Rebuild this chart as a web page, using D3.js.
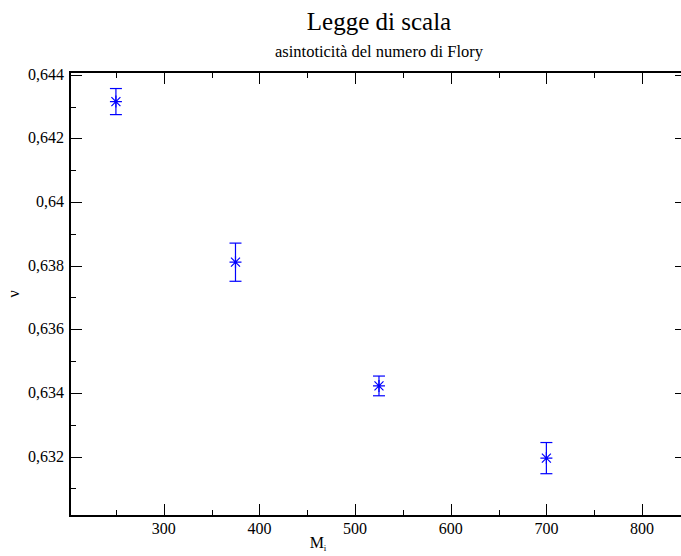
<!DOCTYPE html>
<html>
<head>
<meta charset="utf-8">
<script src="https://cdn.jsdelivr.net/npm/d3@7"></script>
<style>
  body { margin: 0; background: #fff; overflow: hidden; }
  svg { display: block; overflow: hidden; }
  text { font-family: "Liberation Serif", "DejaVu Serif", serif; }
</style>
</head>
<body>
<svg id="chart" width="681" height="556"></svg>
<script>
// ---- data ----
const sizes = [250, 375, 525, 700];              // M_i
const nuValues = [0.64316, 0.63811, 0.63422, 0.63195];
const nuErrors = [0.00041, 0.00060, 0.00031, 0.00049];
const xTicks = [300, 400, 500, 600, 700, 800];
const yTicks = [0.632, 0.634, 0.636, 0.638, 0.64, 0.642, 0.644];

const svg = d3.select("#chart");
const W = 681;
const serif = "'Liberation Serif', 'DejaVu Serif', serif";
const frame = { left: 70, top: 72, right: 687, bottom: 516 };

const xScale = d3.scaleLinear().domain([202, 847]).range([frame.left, frame.right]);
const yScale = d3.scaleLinear().domain([0.63013, 0.64409]).range([frame.bottom, frame.top]);

const fmt = d => String(+d.toFixed(3)).replace(".", ",");

// minor ticks half way between majors
const xMinor = d3.range(250, 851, 100);
const yMinor = d3.range(0.631, 0.6441, 0.002);

// the plot frame runs past the right edge of the picture: clip it there
svg.append("defs").append("clipPath").attr("id", "page")
  .append("rect").attr("x", 0).attr("y", 0).attr("width", W).attr("height", 556);

const g = svg.append("g").attr("clip-path", "url(#page)");

// ---- ticks (inward, all four sides) ----
const tickLine = (x1, y1, x2, y2) =>
  g.append("line").attr("x1", x1).attr("y1", y1).attr("x2", x2).attr("y2", y2)
    .attr("stroke", "#000").attr("stroke-width", 1);

xTicks.forEach(v => {
  const x = Math.round(xScale(v)) + 0.5;
  tickLine(x, frame.bottom, x, frame.bottom - 12);
  tickLine(x, frame.top, x, frame.top + 12);
});
xMinor.forEach(v => {
  const x = Math.round(xScale(v)) + 0.5;
  tickLine(x, frame.bottom, x, frame.bottom - 6);
  tickLine(x, frame.top, x, frame.top + 6);
});
yTicks.forEach(v => {
  const y = Math.round(yScale(v)) + 0.5;
  tickLine(frame.left, y, frame.left + 12, y);
  tickLine(frame.right, y, frame.right - 12, y);
});
yMinor.forEach(v => {
  const y = Math.round(yScale(v)) + 0.5;
  tickLine(frame.left, y, frame.left + 6, y);
  tickLine(frame.right, y, frame.right - 6, y);
});

// ---- frame: left, top, bottom (right side lies off the page) ----
g.append("path")
  .attr("d", `M${frame.right},${frame.top}H${frame.left}V${frame.bottom}H${frame.right}`)
  .attr("fill", "none").attr("stroke", "#000").attr("stroke-width", 2);

// ---- tick labels ----
g.selectAll(".xlab").data(xTicks).enter().append("text")
  .attr("class", "xlab")
  .attr("x", d => xScale(d)).attr("y", frame.bottom + 18)
  .attr("text-anchor", "middle").attr("font-family", serif).attr("font-size", 16)
  .text(d => d);

g.selectAll(".ylab").data(yTicks).enter().append("text")
  .attr("class", "ylab")
  .attr("x", frame.left - 6).attr("y", d => yScale(d) + 5)
  .attr("text-anchor", "end").attr("font-family", serif).attr("font-size", 16)
  .text(fmt);

// ---- titles ----
const cx = 379;
svg.append("text").attr("x", cx).attr("y", 30)
  .attr("text-anchor", "middle").attr("font-family", serif).attr("font-size", 25)
  .text("Legge di scala");
svg.append("text").attr("x", cx).attr("y", 57)
  .attr("text-anchor", "middle").attr("font-family", serif).attr("font-size", 16.5)
  .text("asintoticità del numero di Flory");

// axis labels
const xl = svg.append("text").attr("x", 318).attr("y", 548)
  .attr("text-anchor", "middle").attr("font-family", serif).attr("font-size", 16);
xl.append("tspan").text("M");
xl.append("tspan").attr("font-size", 9).attr("dy", 3).text("i");

svg.append("text")
  .attr("transform", `translate(19, 294) rotate(-90)`)
  .attr("text-anchor", "middle").attr("font-family", serif).attr("font-size", 16)
  .text("ν");

// ---- data: error bars + star symbols ----
const pts = sizes.map((s, i) => ({ x: s, y: nuValues[i], e: nuErrors[i] }));
const blue = "#0000ff";
const cap = 6, r = 6;

const pg = g.selectAll(".pt").data(pts).enter().append("g").attr("class", "pt")
  .attr("stroke", blue).attr("stroke-width", 1.2).attr("fill", "none");

pg.append("line")
  .attr("x1", d => xScale(d.x)).attr("x2", d => xScale(d.x))
  .attr("y1", d => yScale(d.y + d.e)).attr("y2", d => yScale(d.y - d.e));
pg.append("line")
  .attr("x1", d => xScale(d.x) - cap).attr("x2", d => xScale(d.x) + cap)
  .attr("y1", d => yScale(d.y + d.e)).attr("y2", d => yScale(d.y + d.e));
pg.append("line")
  .attr("x1", d => xScale(d.x) - cap).attr("x2", d => xScale(d.x) + cap)
  .attr("y1", d => yScale(d.y - d.e)).attr("y2", d => yScale(d.y - d.e));

pg.append("path")
  .attr("d", d => {
    const x = xScale(d.x), y = yScale(d.y), k = r * 0.75;
    return `M${x - r},${y}H${x + r}M${x},${y - r}V${y + r}` +
      `M${x - k},${y - k}L${x + k},${y + k}M${x - k},${y + k}L${x + k},${y - k}`;
  });
</script>
</body>
</html>
